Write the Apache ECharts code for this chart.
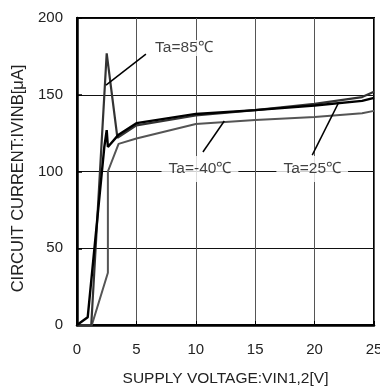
<!DOCTYPE html>
<html>
<head>
<meta charset="utf-8">
<script src="https://cdn.jsdelivr.net/npm/echarts@6/dist/echarts.min.js"></script>
<style>
  html, body { margin: 0; padding: 0; background: #fff; }
  #chart { width: 380px; height: 390px; }
</style>
</head>
<body>
<div id="chart"></div>
<script>
// Circuit current vs. supply voltage at three ambient temperatures
const xTicks = [0, 5, 10, 15, 20, 25];
const yTicks = [0, 50, 100, 150, 200];

// [supply voltage V, current uA]
const ta85 = [[0, 0], [1.2, 0], [2.5, 177], [3.4, 122], [5, 130], [10, 136.5], [15, 140], [20, 144], [24, 148.5], [25, 152]];
const ta25 = [[0, 0], [0.9, 5], [2.3, 116], [2.5, 127], [2.6, 116], [3.5, 124], [5, 131.5], [10, 137.5], [15, 140], [20, 143], [24, 146], [25, 148]];
const taM40 = [[0, 0], [1.25, 0], [2.6, 34], [2.6, 100], [3.5, 118], [5, 121.5], [10, 131], [15, 133.5], [20, 135.5], [24, 138], [25, 139.5]];

// Curve labels: [x, y, text] and their leader lines
const labelTexts = [[9.0, 180.5, 'Ta=85℃'], [10.35, 101.6, 'Ta=-40℃'], [19.8, 101.6, 'Ta=25℃']];
const leader85 = [[5.8, 176.5], [2.44, 156.3]];
const leaderM40 = [[10.6, 112.7], [12.4, 132.9]];
const leader25 = [[19.8, 110.7], [22.0, 144.6]];

const font = 'Liberation Sans, Arial, sans-serif';

const chart = echarts.init(document.getElementById('chart'), null, { renderer: 'canvas' });

function curve(name, data, color, width, z) {
  return {
    name, type: 'line', data, symbol: 'none', z,
    lineStyle: { color, width }, animation: false, clip: true
  };
}
function leader(data) {
  return {
    type: 'line', data, symbol: 'none', z: 6, silent: true,
    lineStyle: { color: '#000', width: 1.5 }, animation: false
  };
}

chart.setOption({
  animation: false,
  grid: {
    left: 77, right: 6, top: 18, bottom: 65, outerBoundsMode: 'none',
    show: true, borderColor: '#000', borderWidth: 2, backgroundColor: 'transparent'
  },
  xAxis: {
    type: 'value', min: xTicks[0], max: xTicks[xTicks.length - 1], interval: 5,
    name: 'SUPPLY VOLTAGE:VIN1,2[V]', nameLocation: 'middle', nameGap: 46,
    nameTextStyle: { fontFamily: font, fontSize: 15.5, color: '#222' },
    axisLine: { show: true, lineStyle: { color: '#000', width: 2.5 } },
    axisTick: { show: true, inside: true, length: 4, lineStyle: { color: '#000', width: 1 } },
    axisLabel: { fontFamily: font, fontSize: 15, color: '#222', margin: 17, showMaxLabel: true },
    splitLine: { show: true, lineStyle: { color: '#555', width: 1 } }
  },
  yAxis: {
    type: 'value', min: yTicks[0], max: yTicks[yTicks.length - 1], interval: 50,
    name: 'CIRCUIT CURRENT:IVINB[μA]', nameLocation: 'middle', nameGap: 50, nameRotate: 90,
    nameTextStyle: { fontFamily: font, fontSize: 16.5, color: '#222', padding: [0, 14, 0, 0] },
    axisLine: { show: true, lineStyle: { color: '#000', width: 2.5 } },
    axisTick: { show: true, inside: true, length: 5, lineStyle: { color: '#000', width: 1.5 } },
    axisLabel: { fontFamily: font, fontSize: 15, color: '#222', margin: 14 },
    splitLine: { show: true, lineStyle: { color: '#111', width: 1 } }
  },
  series: [
    curve('Ta=-40℃', taM40, '#555', 2, 3),
    curve('Ta=85℃', ta85, '#333', 2.2, 4),
    curve('Ta=25℃', ta25, '#000', 2.4, 5),
    leader(leader85),
    leader(leaderM40),
    leader(leader25),
    {
      type: 'scatter', symbolSize: 0, z: 10, silent: true, animation: false,
      data: labelTexts.map((d, i) => ({
        value: [d[0], d[1]],
        label: {
          show: true, position: 'inside', formatter: d[2],
          fontFamily: font, fontSize: 15.5, color: '#111',
          backgroundColor: '#fff',
          padding: i === 0 ? [0, 0] : [5, 7]
        }
      }))
    }
  ]
});
</script>
</body>
</html>
